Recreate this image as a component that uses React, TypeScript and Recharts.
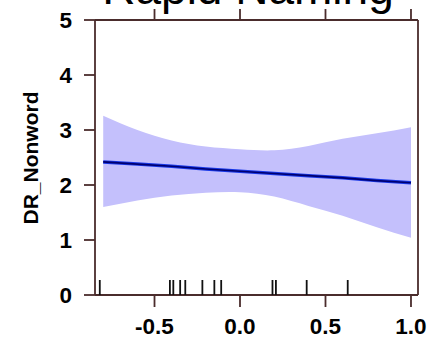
import {
  ComposedChart,
  Area,
  Line,
  Scatter,
  XAxis,
  YAxis,
  Customized,
} from 'recharts';

// fitted effect and its confidence band
const xs = [-0.8, -0.6, -0.4, -0.2, 0, 0.2, 0.4, 0.6, 0.8, 1.0];
const fit = [2.42, 2.38, 2.34, 2.29, 2.25, 2.21, 2.17, 2.13, 2.08, 2.04];
const upper = [3.26, 3.0, 2.81, 2.7, 2.65, 2.63, 2.71, 2.84, 2.94, 3.05];
const lower = [1.6, 1.72, 1.81, 1.86, 1.87, 1.79, 1.62, 1.44, 1.23, 1.04];

// rug of observed x values
const rugX = [-0.82, -0.41, -0.39, -0.35, -0.32, -0.22, -0.15, -0.11, 0.19, 0.21, 0.39, 0.63];

const xTicks = [-0.5, 0, 0.5, 1.0];
const yTicks = [0, 1, 2, 3, 4, 5];

const data = xs.map((x, i) => ({ x, fit: fit[i], band: [lower[i], upper[i]] }));
const rug = rugX.map((x) => ({ x, y: 0 }));

const AXIS = '#4a2c2c';
const FONT = '"Liberation Sans", Arial, sans-serif';

function RugMark(props: { cx?: number; cy?: number }) {
  const { cx = 0, cy = 0 } = props;
  return <line x1={cx} x2={cx} y1={cy} y2={cy - 15} stroke="#111" strokeWidth={1.8} />;
}

function Titles() {
  return (
    <g fontFamily={FONT}>
      <text x={248} y={4} textAnchor="middle" fontSize={46} fill="#000">
        Rapid Naming
      </text>
      <text
        x={30}
        y={158}
        transform="rotate(-90 30 158)"
        textAnchor="middle"
        dominantBaseline="central"
        fontSize={21}
        fontWeight="bold"
        fill="#000"
      >
        DR_Nonword
      </text>
    </g>
  );
}

const fmtX = (v: number) => v.toFixed(1);
const tickStyle = { fill: '#000', fontSize: 22.5, fontWeight: 'bold', fontFamily: FONT };

export default function App() {
  return (
    <div style={{ position: 'absolute', left: 0, top: 0 }}>
      <ComposedChart
        width={427}
        height={339}
        data={data}
        margin={{ top: 0, right: 0, bottom: 0, left: 0 }}
      >
        <XAxis
          xAxisId="bottom"
          dataKey="x"
          type="number"
          domain={[-0.848, 1.041]}
          ticks={xTicks}
          tickFormatter={fmtX}
          height={44}
          stroke={AXIS}
          strokeWidth={1.8}
          tickSize={12}
          tickMargin={11}
          tick={tickStyle}
        />
        <XAxis
          xAxisId="top"
          orientation="top"
          dataKey="x"
          type="number"
          domain={[-0.848, 1.041]}
          ticks={xTicks}
          height={20}
          stroke={AXIS}
          strokeWidth={1.8}
          tickSize={11}
          tick={() => <g />}
        />
        <YAxis
          yAxisId="left"
          type="number"
          domain={[0, 5]}
          ticks={yTicks}
          width={95}
          stroke={AXIS}
          strokeWidth={1.8}
          tickSize={11}
          tickMargin={12}
          tick={tickStyle}
        />
        <YAxis
          yAxisId="right"
          orientation="right"
          type="number"
          domain={[0, 5]}
          ticks={yTicks}
          width={9}
          stroke={AXIS}
          strokeWidth={1.8}
          tickSize={11}
          tick={() => <g />}
        />
        <Area
          xAxisId="bottom"
          yAxisId="left"
          dataKey="band"
          type="natural"
          stroke="none"
          fill="#c4c0fc"
          fillOpacity={1}
          isAnimationActive={false}
        />
        <Line
          xAxisId="bottom"
          yAxisId="left"
          dataKey="fit"
          type="linear"
          stroke="#1838e8"
          strokeWidth={3.5}
          dot={false}
          isAnimationActive={false}
        />
        <Line
          xAxisId="bottom"
          yAxisId="left"
          dataKey="fit"
          type="linear"
          stroke="#000070"
          strokeWidth={1.6}
          dot={false}
          isAnimationActive={false}
        />
        <Scatter
          xAxisId="bottom"
          yAxisId="left"
          data={rug}
          dataKey="y"
          shape={<RugMark />}
          isAnimationActive={false}
        />
        <Customized component={Titles} />
      </ComposedChart>
    </div>
  );
}
